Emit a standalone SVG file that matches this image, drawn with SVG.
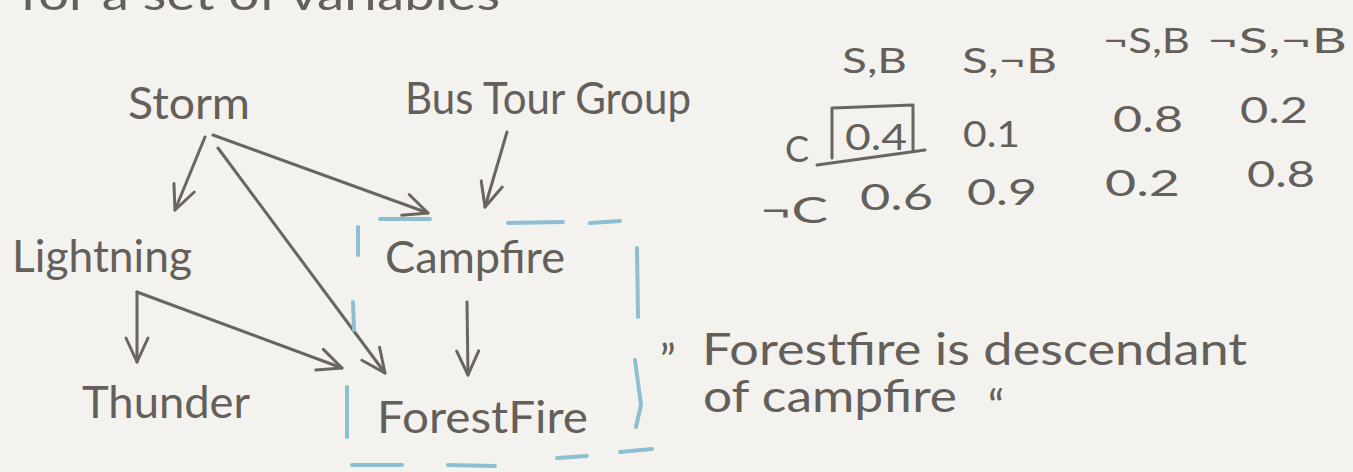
<svg xmlns="http://www.w3.org/2000/svg" width="1353" height="472" viewBox="0 0 1353 472">
  <defs>
    <style>
      .ink { font-family: Lato, "Open Sans", "Liberation Sans", sans-serif; font-weight: 400; fill: #645f5a; }
      .lbl { font-size: 44px; }
      .num { font-size: 36px; }
      .hdr { font-size: 34px; }
      .note { font-size: 44px; }
      .edge { fill: none; stroke: #6a655f; stroke-width: 3; stroke-linecap: round; stroke-linejoin: round; }
      .dash { fill: none; stroke: #8dbfd3; stroke-width: 4; stroke-linecap: round; }
      .pen { fill: none; stroke: #6a655f; stroke-width: 3; stroke-linecap: round; stroke-linejoin: round; }
    </style>
    <marker id="head" viewBox="0 0 30 30" refX="28" refY="15" markerWidth="30" markerHeight="30" markerUnits="userSpaceOnUse" orient="auto">
      <path d="M4,4 L28,15 L4,26" fill="none" stroke="#6a655f" stroke-width="3" stroke-linecap="round" stroke-linejoin="round"/>
    </marker>
  </defs>

  <rect width="1353" height="472" fill="#f3f2ef"/>

  <!-- heading line running off the top edge -->
  <text class="ink note" x="20" y="10" textLength="480" lengthAdjust="spacingAndGlyphs">for a set of variables</text>

  <!-- connectors -->
  <g id="connectors">
    <line class="edge" x1="205" y1="137" x2="175" y2="210" marker-end="url(#head)"/>
    <line class="edge" x1="213" y1="135" x2="428" y2="213" marker-end="url(#head)"/>
    <line class="edge" x1="218" y1="148" x2="385" y2="373" marker-end="url(#head)"/>
    <line class="edge" x1="507" y1="132" x2="485" y2="207" marker-end="url(#head)"/>
    <line class="edge" x1="137" y1="292" x2="137" y2="362" marker-end="url(#head)"/>
    <line class="edge" x1="137" y1="292" x2="342" y2="368" marker-end="url(#head)"/>
    <line class="edge" x1="467" y1="302" x2="468" y2="375" marker-end="url(#head)"/>
  </g>

  <!-- dashed outline around Campfire and ForestFire -->
  <g id="descendant-box">
    <path class="dash" d="M380,219 L430,219 M508,223 L563,222 M590,223 L620,221
                          M358,227 L358,255 M353,302 L354,330 M347,387 L347,437
                          M637,248 L638,317 M635,360 L641,405 L636,427
                          M352,465 L402,465 M448,465 L495,466 M557,458 L587,456 M620,452 L652,449"/>
  </g>

  <g id="storm"><text class="ink lbl" x="128" y="119" textLength="122" lengthAdjust="spacingAndGlyphs">Storm</text></g>
  <g id="bus-tour-group"><text class="ink lbl" x="405" y="114" textLength="286" lengthAdjust="spacingAndGlyphs">Bus Tour Group</text></g>
  <g id="lightning"><text class="ink lbl" x="12" y="272" textLength="180" lengthAdjust="spacingAndGlyphs">Lightning</text></g>
  <g id="thunder"><text class="ink lbl" x="82" y="418" textLength="168" lengthAdjust="spacingAndGlyphs">Thunder</text></g>
  <g id="campfire"><text class="ink lbl" x="385" y="273" textLength="180" lengthAdjust="spacingAndGlyphs">Campfire</text></g>
  <g id="forestfire"><text class="ink lbl" x="377" y="433" textLength="211" lengthAdjust="spacingAndGlyphs">ForestFire</text></g>

  <!-- remark -->
  <g id="note">
    <text class="ink note" x="660" y="348">„</text>
    <text class="ink note" x="702" y="365" textLength="545" lengthAdjust="spacingAndGlyphs">Forestfire is descendant</text>
    <text class="ink note" x="703" y="412" textLength="254" lengthAdjust="spacingAndGlyphs">of campfire</text>
    <text class="ink note" x="988" y="422">“</text>
  </g>

  <!-- conditional probability table for Campfire -->
  <g id="cpt">
    <text class="ink hdr" x="842" y="73" textLength="65" lengthAdjust="spacingAndGlyphs">S,B</text>
    <text class="ink hdr" x="962" y="73" textLength="95" lengthAdjust="spacingAndGlyphs">S,¬B</text>
    <text class="ink hdr" x="1103" y="53" textLength="87" lengthAdjust="spacingAndGlyphs">¬S,B</text>
    <text class="ink hdr" x="1207" y="53" textLength="140" lengthAdjust="spacingAndGlyphs">¬S,¬B</text>

    <text class="ink num" x="785" y="162">C</text>
    <path class="pen" d="M832,108 L913,105 L913,150 M832,108 L832,158 M817,165 L925,150"/>
    <text class="ink num" x="845" y="150" textLength="62" lengthAdjust="spacingAndGlyphs">0.4</text>
    <text class="ink num" x="963" y="147" textLength="57" lengthAdjust="spacingAndGlyphs">0.1</text>
    <text class="ink num" x="1113" y="132" textLength="70" lengthAdjust="spacingAndGlyphs">0.8</text>
    <text class="ink num" x="1240" y="123" textLength="68" lengthAdjust="spacingAndGlyphs">0.2</text>

    <text class="ink num" x="760" y="223" textLength="68" lengthAdjust="spacingAndGlyphs">¬C</text>
    <text class="ink num" x="860" y="210" textLength="73" lengthAdjust="spacingAndGlyphs">0.6</text>
    <text class="ink num" x="967" y="205" textLength="70" lengthAdjust="spacingAndGlyphs">0.9</text>
    <text class="ink num" x="1105" y="196" textLength="75" lengthAdjust="spacingAndGlyphs">0.2</text>
    <text class="ink num" x="1247" y="187" textLength="68" lengthAdjust="spacingAndGlyphs">0.8</text>
  </g>
</svg>
